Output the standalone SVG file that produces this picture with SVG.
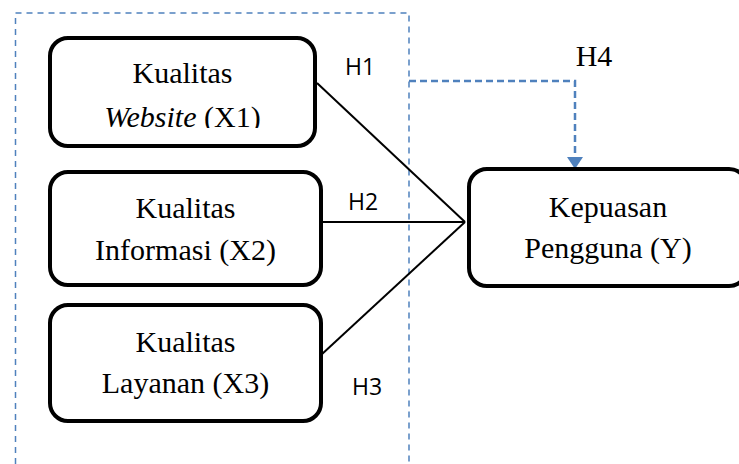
<svg xmlns="http://www.w3.org/2000/svg" width="739" height="464" viewBox="0 0 739 464">
<style>
.box{fill:#fff;stroke:#000;stroke-width:4}
.t{font-family:'Liberation Serif','Times New Roman','DejaVu Serif',serif;font-size:30px;fill:#000;text-anchor:middle}
.h{font-family:'Open Sans','Liberation Sans',sans-serif;font-size:23px;fill:#000}
.ln{stroke:#000;stroke-width:2;fill:none}
.dash{stroke:#4f81bd;stroke-width:1.5;stroke-dasharray:6 5;fill:none}
.dash2{stroke:#4f81bd;stroke-width:2.5;stroke-dasharray:7 4;fill:none}
</style>
<defs>
<clipPath id="c1"><rect x="48" y="36" width="270" height="92"/></clipPath>
</defs>
<rect width="739" height="464" fill="#fff"/>
<g id="group-box">
<rect class="dash" x="15.5" y="13" width="393.5" height="470"/>
</g>
<g id="connectors">
<line class="ln" x1="317" y1="83" x2="465" y2="222"/>
<line class="ln" x1="321" y1="222" x2="465" y2="222"/>
<line class="ln" x1="321" y1="355" x2="465" y2="222"/>
<polyline class="dash2" points="409,81 575,81 575,158"/>
<polygon points="567,157 583,157 575,169" fill="#4f81bd"/>
<text class="h" x="345" y="75">H1</text>
<text class="h" x="348" y="210">H2</text>
<text class="h" x="352" y="395">H3</text>
<text class="t" x="594" y="66" font-family="Liberation Serif, serif">H4</text>
</g>
<g id="x1">
<rect class="box" x="50" y="38" width="265" height="108" rx="18"/>
<g clip-path="url(#c1)">
<text class="t" x="182.5" y="83" font-family="Liberation Serif, serif">Kualitas</text>
<text class="t" x="182.5" y="127" font-family="Liberation Serif, serif"><tspan font-style="italic">Website</tspan> (X1)</text>
</g>
</g>
<g id="x2">
<rect class="box" x="50" y="172" width="271" height="113" rx="18"/>
<text class="t" x="185.5" y="218" font-family="Liberation Serif, serif">Kualitas</text>
<text class="t" x="185.5" y="260" font-family="Liberation Serif, serif">Informasi (X2)</text>
</g>
<g id="x3">
<rect class="box" x="50" y="305" width="271" height="116" rx="18"/>
<text class="t" x="185.5" y="352" font-family="Liberation Serif, serif">Kualitas</text>
<text class="t" x="185.5" y="393" font-family="Liberation Serif, serif">Layanan (X3)</text>
</g>
<g id="y">
<rect class="box" x="469" y="169" width="278" height="117" rx="18"/>
<text class="t" x="608" y="217" font-family="Liberation Serif, serif">Kepuasan</text>
<text class="t" x="608" y="258" font-family="Liberation Serif, serif">Pengguna (Y)</text>
</g>
</svg>
